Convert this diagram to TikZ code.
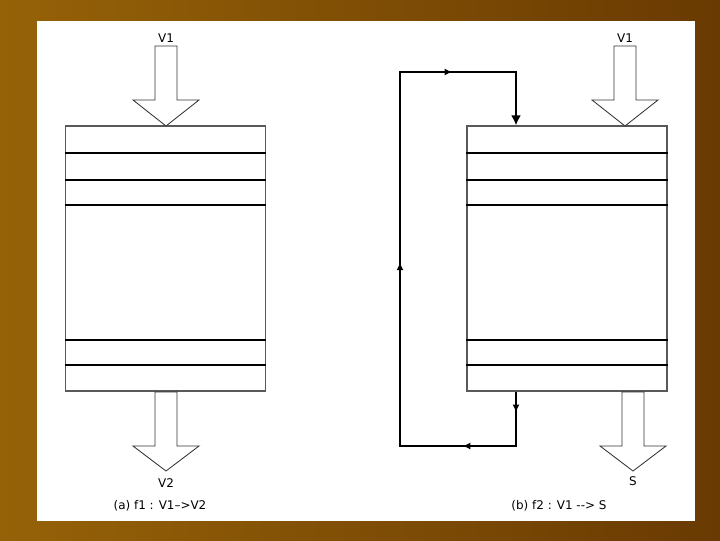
\documentclass[tikz,border=0pt]{standalone}
\usepackage{fontspec}
\setmainfont{DejaVu Sans}
\usetikzlibrary{arrows.meta,decorations.markings}

% block arrow: centre x, shaft top, head base, tip
\newcommand{\flowarrow}[4]{%
\filldraw[blockarrow]
(#1-11,#2) --
(#1+11,#2) --
(#1+11,#3) --
(#1+33,#3) --
(#1,#4) --
(#1-33,#3) --
(#1-11,#3) --
cycle;}

\tikzset{
  column/.style={draw=black!65,line width=0.9pt,fill=white,
    minimum width=5cm,minimum height=6.625cm,inner sep=0pt},
  thickdiv/.style={line width=1.5pt},
  thindiv/.style={line width=0.8pt},
  blockarrow/.style={draw=black!80,line width=0.6pt,fill=white},
  lbl/.style={font=\fontsize{8.5}{10}\selectfont,inner sep=1pt},
  midtip/.style={postaction={decorate},decoration={markings,
    mark=at position 0.029 with {\arrow{Latex[length=5.5pt,width=5pt]}},
    mark=at position 0.151 with {\arrow{Latex[length=5.5pt,width=5pt]}},
    mark=at position 0.496 with {\arrow{Latex[length=5.5pt,width=5pt]}},
    mark=at position 0.836 with {\arrow{Latex[length=5.5pt,width=5pt]}}}},
  loopline/.style={line width=1.3pt,-{Latex[length=7pt,width=7pt]}}
}

\begin{document}
\begin{tikzpicture}[x=0.025cm,y=-0.025cm]
% slide background
\shade[left color={rgb,255:red,150;green,98;blue,8},right color={rgb,255:red,105;green,58;blue,2}]
(0,0) rectangle (720,540);
\useasboundingbox (0,0) rectangle (720,540);
\fill[white] (37,21) rectangle (695,521);

% columns
\node[column] (colA) at (165.5,258.5) {};
\node[column] (colB) at (567,258.5) {};

\foreach \c in {colA,colB} {
  \draw[thickdiv] (\c.west |- 0,153) -- (\c.east |- 0,153);
  \draw[thindiv] (\c.west |- 0,180) -- (\c.east |- 0,180);
  \draw[thickdiv] (\c.west |- 0,205) -- (\c.east |- 0,205);
  \draw[thindiv] (\c.west |- 0,340) -- (\c.east |- 0,340);
  \draw[thickdiv] (\c.west |- 0,365) -- (\c.east |- 0,365);
}

% feed and product arrows
\flowarrow{166}{46}{100}{126}
\flowarrow{166}{392}{446}{471}
\flowarrow{625}{46}{100}{126}
\flowarrow{633}{392}{446}{471}

\node[lbl] (v1a) at (166,38) {V1};
\node[lbl] (v2a) at (166,483) {V2};
\node[lbl] (v1b) at (625,38) {V1};
\node[lbl] (sb) at (633,481) {S};

% recycle loop
\coordinate (lo) at (516,446);
\coordinate (ll) at (400,446);
\coordinate (lu) at (400,72);
\coordinate (lt) at (516,72);
\draw[loopline,midtip]
(colB.south -| lo) --
(lo) --
(ll) --
(lu) --
(lt) --
(colB.north -| lt);

% captions
\node[lbl] (capa) at (160,506) {(a) f1 : V1–>V2};
\node[lbl] (capb) at (559,506) {(b) f2 : V1 -{}-> S};

\end{tikzpicture}
\end{document}
